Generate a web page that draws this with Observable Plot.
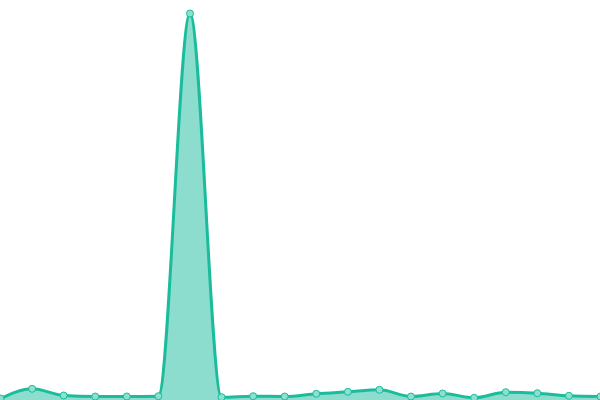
<!DOCTYPE html>
<html>
<head>
<meta charset="utf-8">
<script src="https://cdn.jsdelivr.net/npm/d3@7"></script>
<script src="https://cdn.jsdelivr.net/npm/@observablehq/plot@0.6"></script>
<style>
  html, body { margin: 0; padding: 0; background: #fff; }
  #chart svg { display: block; }
</style>
</head>
<body>
<div id="chart"></div>
<script>
const indices = d3.range(20);
const values = [2, 11.7, 5, 4, 4, 4.3, 387, 3.3, 4.3, 4, 6.7, 8.7, 10.7, 4, 7, 2.7, 8.3, 7.3, 4.7, 4];

const data = indices.map((i) => ({ i, v: values[i] }));

const chart = Plot.plot({
  width: 600,
  height: 400,
  margin: 0,
  x: { domain: [0, 19], axis: null },
  y: { domain: [0, 400], axis: null },
  marks: [
    Plot.areaY(data, { x: "i", y: "v", curve: "monotone-x", fill: "#1abc9c", fillOpacity: 0.5 }),
    Plot.lineY(data, { x: "i", y: "v", curve: "monotone-x", stroke: "#1abc9c", strokeWidth: 3 }),
    Plot.dot(data, { x: "i", y: "v", r: 3.5, fill: "#8ce0cf", stroke: "#1abc9c", strokeWidth: 1 })
  ]
});
document.getElementById("chart").appendChild(chart);
</script>
</body>
</html>
